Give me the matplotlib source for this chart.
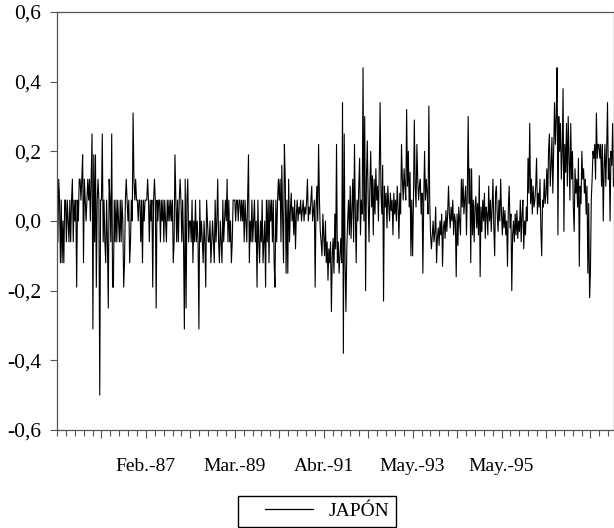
import numpy as np
import matplotlib

matplotlib.use("Agg")
from matplotlib import pyplot as plt
from matplotlib.legend_handler import HandlerLine2D
from matplotlib.lines import Line2D

# weekly changes of the Japanese series, one list per year of observations
obs_1985 = [0.06, -0.06, 0.12, 0.06, -0.12, 0.06, -0.12, 0.0, -0.12, 0.06,
            0.06, -0.06, 0.06, 0.0, -0.06, 0.06, -0.06, 0.06, 0.12, -0.06,
            0.06, 0.0, 0.06, -0.19, 0.06, 0.0, 0.12, 0.12, 0.06, 0.12,
            0.19, -0.12, 0.12, 0.06, 0.0, 0.06, 0.12, 0.06, 0.12, 0.0,
            0.12, 0.25, -0.31, 0.19, -0.06, 0.19, -0.19, 0.06, 0.12, 0.06,
            -0.5, 0.06]
obs_1986 = [0.06, 0.25, -0.06, 0.06, -0.06, -0.12, 0.06, -0.06, -0.25, 0.12,
            0.06, -0.06, 0.25, -0.19, -0.19, 0.06, -0.06, 0.06, -0.06, 0.06,
            0.0, -0.06, 0.06, -0.06, 0.06, 0.0, -0.19, -0.12, 0.06, 0.12,
            0.06, 0.0, 0.06, -0.12, -0.06, 0.06, 0.0, 0.31, 0.12, 0.06,
            0.12, 0.06, 0.06, 0.0, 0.06, 0.06, -0.06, 0.06, -0.12, 0.06,
            0.0, 0.06]
obs_1987 = [0.06, 0.06, 0.12, 0.06, -0.06, 0.06, 0.0, 0.06, -0.19, 0.06,
            0.12, 0.06, -0.25, 0.06, 0.0, 0.06, 0.06, -0.06, 0.06, 0.0,
            0.06, -0.06, 0.06, 0.0, -0.06, 0.06, 0.0, 0.06, 0.0, 0.06,
            0.0, 0.06, -0.12, -0.06, 0.19, 0.06, -0.06, 0.06, -0.06, 0.06,
            0.12, 0.06, -0.06, 0.06, -0.06, -0.31, 0.12, -0.25, 0.06, 0.12,
            -0.06, 0.0]
obs_1988 = [0.0, -0.06, 0.06, -0.12, 0.0, -0.06, 0.06, -0.06, 0.0, -0.06,
            -0.31, 0.06, -0.06, 0.0, -0.06, -0.12, 0.0, -0.06, -0.19, 0.06,
            0.0, -0.06, -0.06, 0.0, -0.12, -0.06, 0.0, -0.06, -0.12, 0.06,
            -0.06, 0.0, 0.12, -0.06, -0.12, 0.0, -0.06, -0.12, 0.06, -0.06,
            0.0, 0.06, 0.0, 0.12, -0.06, 0.06, -0.06, 0.0, -0.12, -0.06,
            0.06, 0.06]
obs_1989 = [0.06, 0.0, 0.06, 0.06, 0.0, 0.06, 0.06, 0.0, 0.06, 0.0,
            0.06, -0.06, 0.06, 0.0, -0.06, 0.06, 0.19, -0.12, 0.0, -0.06,
            0.06, -0.06, 0.0, 0.06, -0.06, 0.0, -0.19, 0.06, -0.06, -0.12,
            0.0, -0.06, 0.06, -0.12, -0.06, 0.0, -0.19, 0.06, -0.06, 0.06,
            -0.12, 0.06, 0.0, 0.06, -0.06, 0.06, -0.12, -0.19, 0.06, -0.06,
            0.06, 0.12]
obs_1990 = [0.06, 0.12, -0.06, 0.16, 0.0, -0.12, 0.22, 0.12, -0.15, 0.06,
            -0.15, 0.12, -0.06, 0.03, 0.08, 0.0, 0.04, -0.04, 0.06, -0.08,
            0.02, 0.06, 0.0, 0.04, 0.02, 0.06, 0.0, 0.03, 0.06, 0.0,
            0.04, 0.02, 0.06, 0.12, 0.0, 0.04, 0.02, 0.06, 0.1, 0.0,
            0.03, 0.06, -0.19, 0.04, 0.1, 0.0, 0.22, 0.06, -0.03, -0.06,
            -0.1, 0.02]
obs_1991 = [-0.04, -0.1, 0.0, -0.12, -0.06, -0.17, -0.08, -0.12, -0.06, -0.26,
            -0.1, -0.05, -0.15, 0.02, -0.08, 0.22, -0.12, -0.06, -0.15, -0.1,
            -0.05, -0.12, 0.34, -0.38, 0.25, -0.12, -0.26, -0.08, 0.0, 0.06,
            -0.04, 0.1, -0.05, 0.04, 0.12, -0.06, 0.22, 0.02, -0.12, 0.06,
            0.0, 0.1, 0.18, -0.04, 0.06, 0.02, 0.44, 0.0, 0.3, -0.2,
            0.12, 0.23]
obs_1992 = [0.06, -0.06, 0.1, 0.2, 0.04, 0.13, -0.04, 0.12, 0.02, 0.15,
            0.06, 0.1, 0.0, 0.15, 0.34, 0.08, 0.02, 0.16, -0.23, 0.1,
            0.04, 0.08, -0.02, 0.1, 0.05, 0.0, 0.08, 0.03, 0.06, -0.04,
            0.08, 0.02, 0.06, 0.0, 0.1, 0.04, -0.05, 0.08, 0.02, 0.22,
            0.12, 0.06, 0.15, 0.1, 0.06, 0.32, 0.1, 0.2, 0.04, 0.14,
            -0.1, 0.06]
obs_1993 = [-0.1, 0.06, 0.29, 0.1, 0.04, 0.22, 0.12, 0.06, 0.1, 0.12,
            0.02, 0.08, -0.15, 0.06, 0.2, 0.06, 0.12, 0.08, 0.02, 0.33,
            0.06, -0.04, -0.08, -0.04, 0.0, -0.06, -0.03, 0.04, -0.12, -0.05,
            -0.02, -0.07, 0.0, -0.04, 0.02, -0.13, -0.02, 0.0, -0.05, 0.03,
            -0.03, 0.02, 0.1, 0.02, -0.02, 0.04, 0.0, 0.06, -0.04, 0.02,
            0.0, -0.16]
obs_1994 = [0.02, -0.07, 0.04, 0.0, -0.04, 0.12, 0.04, 0.12, 0.02, 0.06,
            0.1, -0.04, 0.08, 0.3, 0.05, 0.15, -0.12, 0.15, -0.04, 0.06,
            -0.06, 0.04, 0.07, -0.02, 0.05, -0.04, 0.13, -0.16, 0.04, -0.03,
            0.06, 0.0, 0.08, -0.05, 0.04, 0.02, -0.04, 0.1, 0.0, 0.06,
            -0.03, 0.04, 0.12, -0.02, -0.1, 0.08, 0.1, 0.02, -0.03, 0.06,
            0.0, 0.12]
obs_1995 = [0.02, -0.04, 0.04, -0.02, 0.03, -0.04, 0.0, -0.13, 0.04, 0.1,
            -0.02, 0.02, -0.2, -0.04, 0.0, -0.06, 0.02, -0.04, 0.03, -0.05,
            0.0, -0.03, 0.06, -0.06, 0.02, 0.06, -0.08, 0.0, -0.04, 0.04,
            0.0, 0.18, 0.08, 0.28, 0.05, 0.12, 0.02, 0.1, 0.04, 0.06,
            0.1, 0.18, 0.02, 0.08, 0.04, 0.12, -0.02, -0.1, 0.06, 0.04,
            0.12, 0.05]
obs_1996 = [0.08, 0.15, 0.05, 0.2, 0.25, 0.1, 0.16, 0.24, 0.08, 0.2,
            0.34, 0.22, 0.3, 0.44, -0.04, 0.3, 0.2, 0.28, 0.12, 0.2,
            0.38, -0.03, 0.22, 0.14, 0.28, 0.1, 0.3, 0.18, 0.06, 0.28,
            0.12, 0.2, 0.04, -0.03, 0.15, 0.08, 0.12, 0.04, 0.18, -0.13,
            0.1, 0.05, 0.2, 0.12, 0.15, 0.08, 0.12, 0.02, 0.1, -0.15,
            0.05, -0.22]
obs_1997 = [-0.15, 0.06, 0.12, 0.2, 0.18, 0.22, 0.12, 0.31, 0.18, 0.22,
            0.22, 0.18, 0.22, 0.1, 0.22, 0.0, 0.15, 0.22, 0.1, 0.2,
            0.34, 0.12, 0.18, 0.0, 0.2, 0.16, 0.28, 0.1]

japon = np.array(obs_1985 + obs_1986 + obs_1987 + obs_1988 + obs_1989
                 + obs_1990 + obs_1991 + obs_1992 + obs_1993 + obs_1994
                 + obs_1995 + obs_1996 + obs_1997)

series_label = "JAPÓN"
obs_per_year = 52
label_obs = [104, 208, 312, 416, 520]
label_text = ["Feb.-87", "Mar.-89", "Abr.-91", "May.-93", "May.-95"]
y_ticks = [-0.6, -0.4, -0.2, 0.0, 0.2, 0.4, 0.6]


def comma_label(value):
    return f"{value:.1f}".replace(".", ",")


class RightLineHandler(HandlerLine2D):
    # legend sample drawn on the right part of the handle box only
    def get_xdata(self, legend, xdescent, ydescent, width, height, fontsize):
        return ([-xdescent + 0.3 * width, -xdescent + width],
                [-xdescent + 0.65 * width])


plt.rcParams["font.family"] = ["Liberation Serif", "DejaVu Serif"]

fig = plt.figure(figsize=(6.14, 5.28), dpi=100)
ax = fig.add_axes([57 / 614, 1 - 430 / 528, 556.5 / 614, 418 / 528])

t = np.arange(len(japon))
ax.plot(t, japon, color="black", linewidth=0.8)

ax.set_xlim(0, len(japon) - 1)
ax.set_ylim(-0.6, 0.6)

axis_grey = "#555555"
for side in ["left", "bottom", "top", "right"]:
    ax.spines[side].set_color(axis_grey)
    ax.spines[side].set_linewidth(0.9)

ax.set_yticks(y_ticks)
ax.set_yticklabels([comma_label(v) for v in y_ticks], fontsize=15.5)
ax.tick_params(axis="y", direction="out", length=5, width=0.8,
               color=axis_grey, pad=6.5)

major_obs = list(range(obs_per_year, len(japon), obs_per_year))
ax.set_xticks(major_obs)
ax.set_xticklabels([label_text[label_obs.index(m)] if m in label_obs else ""
                    for m in major_obs], fontsize=14)
ax.set_xticks(np.arange(0, len(japon), obs_per_year / 5), minor=True)
ax.tick_params(axis="x", which="major", direction="out", length=6,
               width=0.8, color=axis_grey, pad=14)
ax.tick_params(axis="x", which="minor", direction="out", length=4,
               width=0.8, color=axis_grey)

handle = Line2D([], [], color="black", linewidth=0.9)
leg = fig.legend([handle], [series_label], loc="lower left",
                 bbox_to_anchor=(238 / 614, 0.002), fontsize=14,
                 handler_map={Line2D: RightLineHandler()},
                 fancybox=False, framealpha=1, edgecolor="black",
                 handlelength=3.5, handletextpad=0.8, borderpad=0.35,
                 borderaxespad=0)
leg.get_frame().set_linewidth(1.0)

fig.savefig("out.png", dpi=100)
plt.close(fig)
